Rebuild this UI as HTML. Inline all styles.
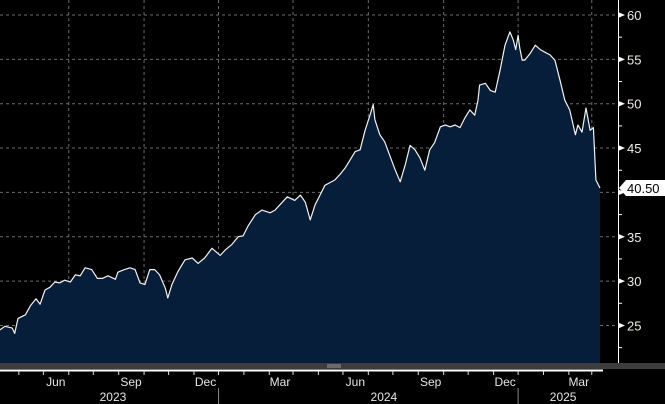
<!DOCTYPE html>
<html><head><meta charset="utf-8"><style>
html,body{margin:0;padding:0;background:#000;}
svg{display:block;font-family:"Liberation Sans",sans-serif;}
</style></head><body>
<svg id="chart" width="665" height="404" viewBox="0 0 665 404" xmlns="http://www.w3.org/2000/svg">
<rect x="0" y="0" width="665" height="404" fill="#000"/>
<g id="grid"></g>
<g id="series"></g>
<rect x="0" y="363" width="618" height="6" fill="#3c3c3c"/>
<rect x="618" y="363" width="47" height="6" fill="#3c3c3c"/>
<line x1="327" x2="341" y1="365" y2="365" stroke="#999" stroke-width="1"/>
<line x1="327" x2="341" y1="367" y2="367" stroke="#999" stroke-width="1"/>
<line x1="0" x2="603" y1="370.5" y2="370.5" stroke="#fff" stroke-width="2"/>
<g id="xaxis"></g>
<g id="yaxis"></g>
</svg>
<script>
const yTicks = [25, 30, 35, 40, 45, 50, 55, 60];
const monthTicks = ["2023-06-01","2023-09-01","2023-12-01","2024-03-01","2024-06-01","2024-09-01","2024-12-01","2025-03-01"];
const monthLabels = ["Jun","Sep","Dec","Mar","Jun","Sep","Dec","Mar"];
const yearLabels = ["2023","2024","2025"];
const yearCenters = ["2023-07-25","2024-06-20","2025-01-25"];
const yearBreaks = ["2023-12-01","2024-12-01"];
const lastValueLabel = "40.50";
const dates = ["2023-03-09","2023-03-15","2023-03-24","2023-03-27","2023-03-31","2023-04-09","2023-04-15","2023-04-22","2023-04-27","2023-05-03","2023-05-09","2023-05-15","2023-05-21","2023-05-27","2023-06-03","2023-06-09","2023-06-15","2023-06-21","2023-06-29","2023-07-06","2023-07-12","2023-07-19","2023-07-28","2023-07-31","2023-08-08","2023-08-15","2023-08-21","2023-08-27","2023-09-02","2023-09-08","2023-09-14","2023-09-20","2023-09-27","2023-09-30","2023-10-05","2023-10-12","2023-10-21","2023-10-30","2023-11-06","2023-11-14","2023-11-23","2023-12-03","2023-12-09","2023-12-17","2023-12-25","2023-12-31","2024-01-06","2024-01-15","2024-01-23","2024-02-02","2024-02-08","2024-02-14","2024-02-23","2024-03-03","2024-03-10","2024-03-16","2024-03-22","2024-03-28","2024-04-03","2024-04-09","2024-04-15","2024-04-21","2024-04-27","2024-05-04","2024-05-10","2024-05-16","2024-05-22","2024-05-28","2024-06-03","2024-06-07","2024-06-09","2024-06-15","2024-06-21","2024-06-27","2024-07-04","2024-07-10","2024-07-16","2024-07-22","2024-07-28","2024-08-03","2024-08-09","2024-08-15","2024-08-21","2024-08-28","2024-09-03","2024-09-09","2024-09-15","2024-09-21","2024-09-27","2024-10-03","2024-10-09","2024-10-13","2024-10-15","2024-10-22","2024-10-28","2024-11-03","2024-11-09","2024-11-15","2024-11-21","2024-11-25","2024-11-28","2024-12-01","2024-12-03","2024-12-06","2024-12-09","2024-12-16","2024-12-22","2024-12-28","2025-01-03","2025-01-09","2025-01-15","2025-01-21","2025-01-27","2025-02-02","2025-02-09","2025-02-12","2025-02-17","2025-02-22","2025-02-27","2025-03-03","2025-03-06","2025-03-11"];
const prices = [24.5,24.9,24.7,24.1,25.8,26.2,27.2,28.0,27.4,29.0,29.3,29.9,29.8,30.1,29.9,30.7,30.6,31.5,31.3,30.3,30.3,30.6,30.2,31.0,31.3,31.5,31.3,29.8,29.6,31.3,31.3,30.7,29.2,28.1,29.6,31.0,32.4,32.6,32.0,32.6,33.7,32.9,33.5,34.1,35.0,35.1,36.2,37.5,38.0,37.7,38.0,38.6,39.5,39.1,39.7,38.9,36.9,38.6,39.7,40.8,41.1,41.4,42.0,42.8,43.7,44.6,44.8,47.0,48.7,49.9,48.2,46.5,45.7,44.2,42.5,41.2,43.1,45.3,44.8,43.9,42.5,44.8,45.6,47.4,47.6,47.4,47.6,47.3,48.4,49.3,48.7,50.4,52.1,52.3,51.5,51.3,53.8,56.6,58.1,57.2,56.1,57.7,56.3,54.9,54.9,55.7,56.6,56.1,55.8,55.5,54.9,52.7,50.4,49.3,46.5,47.6,46.8,49.5,47.0,47.3,41.4,40.5];

const NS = "http://www.w3.org/2000/svg";
const t0 = Date.parse("2023-03-09"), pxPerDay = 0.8185;
function xScale(d){ return (Date.parse(d) - t0) / 86400000 * pxPerDay; }
function yScale(v){ return 15 + (60 - v) * 8.87; }
function mk(tag, attrs, parent){ const e = document.createElementNS(NS, tag); for (const k in attrs) e.setAttribute(k, attrs[k]); parent.appendChild(e); return e; }
const grid = document.getElementById("grid"), series = document.getElementById("series"), xaxis = document.getElementById("xaxis"), yaxis = document.getElementById("yaxis");

yTicks.forEach(v => {
  const l = mk("line", {x1:0, x2:618, y1:yScale(v), y2:yScale(v), stroke:"#6a6a6a", "stroke-width":1, "stroke-dasharray":"3,3"}, grid);
  
  
});
monthTicks.forEach(d => {
  const l = mk("line", {x1:xScale(d), x2:xScale(d), y1:0, y2:363, stroke:"#6a6a6a", "stroke-width":1, "stroke-dasharray":"3,3"}, grid);
  
  
});

let pts = dates.map((d,i) => xScale(d).toFixed(1) + "," + yScale(prices[i]).toFixed(1));
const lastX = xScale(dates[dates.length-1]).toFixed(1);
const area = mk("path", {d:"M0,363 L" + pts.join(" L") + " L" + lastX + ",363 Z", fill:"#061e3a"}, series);


const line = mk("polyline", {points:pts.join(" "), fill:"none", stroke:"#f2f2f2", "stroke-width":1.2, "stroke-linejoin":"round"}, series);



// x axis: monthly minor ticks
for (let y = 2023; y <= 2025; y++) for (let m = 0; m < 12; m++) {
  const d = y + "-" + String(m+1).padStart(2,"0") + "-01";
  const x = xScale(d);
  if (x < 0 || x > 603) continue;
  const t = mk("line", {x1:x, x2:x, y1:371, y2:375, stroke:"#ddd", "stroke-width":1}, xaxis);
  
  
}
monthTicks.forEach((d,i) => {
  const t = mk("text", {x:xScale(d) - 13, y:386, fill:"#e6e6e6", "font-size":12, "text-anchor":"middle"}, xaxis);
  t.textContent = monthLabels[i];
  
  
});
yearLabels.forEach((s,i) => {
  const t = mk("text", {x:xScale(yearCenters[i]), y:401, fill:"#e6e6e6", "font-size":12, "text-anchor":"middle"}, xaxis);
  t.textContent = s;
  
  
});
yearBreaks.forEach(d => {
  const l = mk("line", {x1:xScale(d), x2:xScale(d), y1:388, y2:404, stroke:"#888", "stroke-width":1}, xaxis);
  
  
});

// y axis
const ax = mk("line", {x1:618.5, x2:618.5, y1:0, y2:363, stroke:"#fff", "stroke-width":1}, yaxis);


yTicks.forEach(v => {
  const y = yScale(v);
  const tri = mk("path", {d:`M618,${y-3} L625,${y} L618,${y+3} Z`, fill:"#fff"}, yaxis);
  
  
  const m = mk("line", {x1:618, x2:622, y1:yScale(v-2.5), y2:yScale(v-2.5), stroke:"#fff", "stroke-width":1}, yaxis);
  
  
  if (Math.abs(v - 40) < 0.1) return;
  const t = mk("text", {x:627, y:y+5, fill:"#f0ece4", "font-size":13}, yaxis);
  t.textContent = v;
  
  
});
const ly = yScale(prices[prices.length-1]);
const tag = mk("path", {d:`M619,${ly} L626,${ly-8} L665,${ly-8} L665,${ly+8} L626,${ly+8} Z`, fill:"#fff"}, yaxis);


const tt = mk("text", {x:627, y:ly+5, fill:"#000", "font-size":13}, yaxis);
tt.textContent = lastValueLabel;


</script>
</body></html>
